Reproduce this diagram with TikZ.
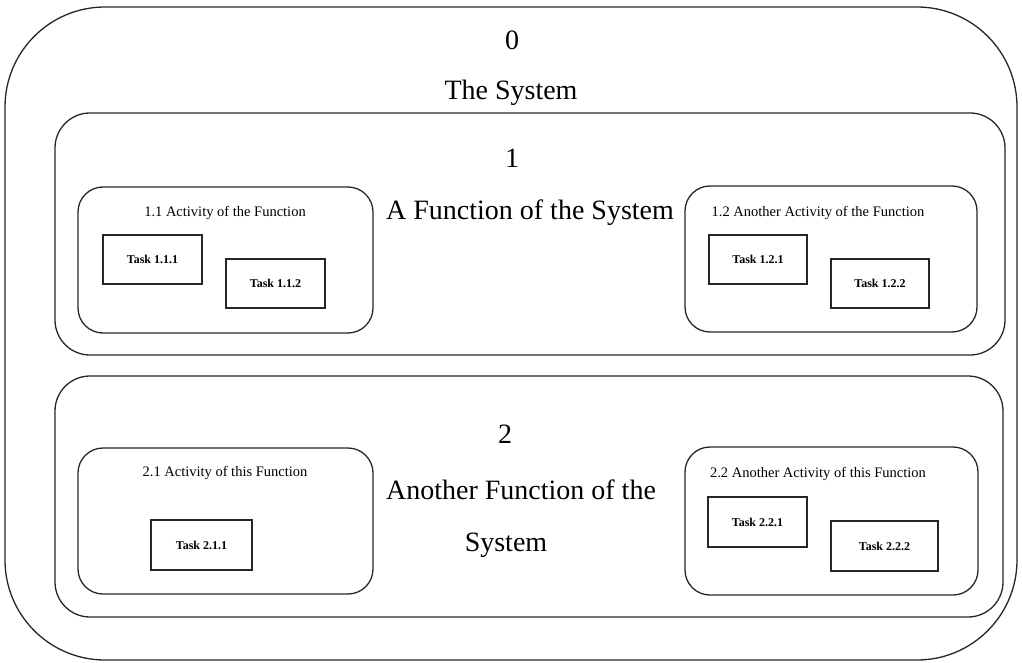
\documentclass[tikz,border=0pt]{standalone}
\usepackage{fontspec}
\setmainfont{Liberation Serif}
\begin{document}
\begin{tikzpicture}[x=1pt,y=-1pt,
  frame/.style={draw=black!85, line width=1.3pt, rounded corners=#1, inner sep=0pt},
  taskbox/.style={draw=black!85, line width=1.4pt, inner sep=0pt, font=\fontsize{12}{14}\selectfont\bfseries},
  bigtext/.style={font=\fontsize{28}{32}\selectfont, inner sep=0pt},
  acttext/.style={font=\fontsize{14.5}{17}\selectfont, inner sep=0pt}]
\useasboundingbox (0,0) rectangle (1022,663);
% system level
\node[frame=100pt, minimum width=1012pt, minimum height=653pt] (sys) at (511,333.5) {};
\node[bigtext] (sysnum) at (512,40) {0};
\node[bigtext] (systitle) at (511,93) {The System};
% function 1
\node[frame=35pt, minimum width=950pt, minimum height=242pt] (f1) at (530,234) {};
\node[bigtext] (f1num) at (512,158) {1};
\node[bigtext] (f1title) at (530,213) {A Function of the System};
% function 2
\node[frame=35pt, minimum width=948pt, minimum height=241pt] (f2) at (529,496.5) {};
\node[bigtext] (f2num) at (505,434) {2};
\node[bigtext] (f2title) at (521,490) {Another Function of the};
\node[bigtext] (f2title2) at (506,545) {System};
% activities
\node[frame=25pt, minimum width=295pt, minimum height=146pt] (a11) at (225.5,260) {};
\node[acttext] (a11t) at (225,213) {1.1 Activity of the Function};
\node[frame=25pt, minimum width=292pt, minimum height=146pt] (a12) at (831,259) {};
\node[acttext] (a12t) at (818,213) {1.2 Another Activity of the Function};
\node[frame=25pt, minimum width=295pt, minimum height=146pt] (a21) at (225.5,521) {};
\node[acttext] (a21t) at (225,473) {2.1 Activity of this Function};
\node[frame=25pt, minimum width=293pt, minimum height=148pt] (a22) at (831.5,521) {};
\node[acttext] (a22t) at (818,474) {2.2 Another Activity of this Function};
% tasks
\node[taskbox, minimum width=99pt, minimum height=49pt] (t111) at (152.5,259.5) {Task 1.1.1};
\node[taskbox, minimum width=99pt, minimum height=49pt] (t112) at (275.5,283.5) {Task 1.1.2};
\node[taskbox, minimum width=98pt, minimum height=49pt] (t121) at (758,259.5) {Task 1.2.1};
\node[taskbox, minimum width=98pt, minimum height=49pt] (t122) at (880,283.5) {Task 1.2.2};
\node[taskbox, minimum width=101pt, minimum height=50pt] (t211) at (201.5,545) {Task 2.1.1};
\node[taskbox, minimum width=99pt, minimum height=50pt] (t221) at (757.5,522) {Task 2.2.1};
\node[taskbox, minimum width=107pt, minimum height=50pt] (t222) at (884.5,546) {Task 2.2.2};
\end{tikzpicture}
\end{document}
